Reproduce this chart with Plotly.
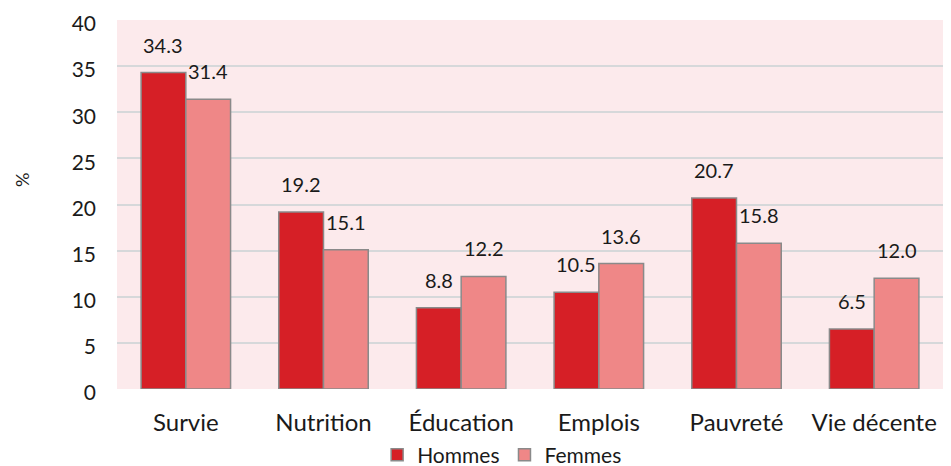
import plotly.graph_objects as go

# categories and values
categories = ["Survie", "Nutrition", "Éducation", "Emplois", "Pauvreté", "Vie décente"]
hommes = [34.3, 19.2, 8.8, 10.5, 20.7, 6.5]
femmes = [31.4, 15.1, 12.2, 13.6, 15.8, 12.0]
y_ticks = [0, 5, 10, 15, 20, 25, 30, 35, 40]

fig = go.Figure()
fig.add_trace(go.Bar(
    x=categories, y=hommes, name="Hommes",
    marker=dict(color="#D61F26", line=dict(color="#8A8A8A", width=1.5)),
))
fig.add_trace(go.Bar(
    x=categories, y=femmes, name="Femmes",
    marker=dict(color="#EF8787", line=dict(color="#8A8A8A", width=1.5)),
))

# value labels above each bar, a bit higher than plotly's default "outside"
for cat, h, f in zip(categories, hommes, femmes):
    for val, shift in ((h, -22.5), (f, 22.5)):
        fig.add_annotation(x=cat, y=val, text=f"{val:.1f}", showarrow=False,
                           xshift=shift, yshift=14, yanchor="bottom",
                           font=dict(size=20, color="#1a1a1a"))

# y axis title placed like the original (paper coords of the plot area)
fig.add_annotation(x=(22 - 117) / 826, y=(389 - 180) / 369, xref="paper", yref="paper",
                   xanchor="center", yanchor="middle",
                   text="%", showarrow=False, textangle=-90,
                   font=dict(size=18, color="#1a1a1a"))

# the page body adds an 8px margin, so the figure is 8px smaller each way
fig.update_layout(
    width=943, height=458,
    margin=dict(l=109, r=8, t=12, b=77),
    paper_bgcolor="white",
    plot_bgcolor="#FCEAEC",
    font=dict(family="Lato, sans-serif", size=20, color="#1a1a1a"),
    barmode="group",
    bargap=0.35,
    bargroupgap=0,
    showlegend=True,
    # container refs so the legend does not push the bottom margin
    legend=dict(orientation="h", xref="container", yref="container",
                x=0.524, xanchor="center", y=1 - 447 / 458, yanchor="middle",
                font=dict(size=21), itemwidth=30, traceorder="normal"),
)
fig.update_xaxes(tickfont=dict(size=24), showgrid=False, ticks="", showline=False,
                 ticklabelstandoff=17, automargin=False)
fig.update_yaxes(range=[0, 40], tickvals=y_ticks, tickfont=dict(size=21),
                 showgrid=True, gridcolor="#D6D8DA", gridwidth=2, zeroline=False,
                 ticklabelstandoff=20, ticklabelshift=4, ticklabeloverflow="allow",
                 automargin=False)

fig.write_html("out.html")
